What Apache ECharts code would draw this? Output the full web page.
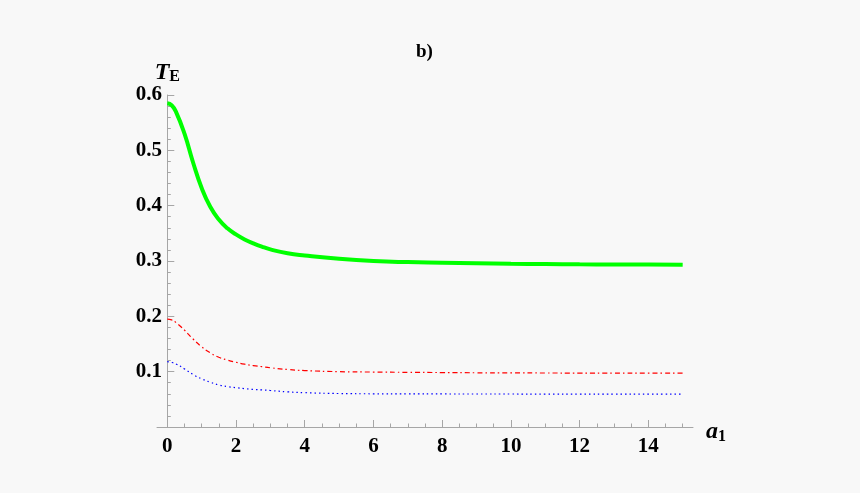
<!DOCTYPE html>
<html>
<head>
<meta charset="utf-8">
<title>b)</title>
<script src="https://cdn.jsdelivr.net/npm/echarts@6/dist/echarts.min.js"></script>
<style>
  html, body { margin: 0; padding: 0; background: #f8f8f8; }
  #chart { width: 860px; height: 493px; }
</style>
</head>
<body>
<div id="chart"></div>
<script>
// a1 values (shared by all curves)
var a1 = [0, 0.125, 0.25, 0.5, 0.75, 1, 1.25, 1.5, 1.75, 2, 2.25, 2.5, 2.75, 3, 3.5, 4, 5, 6, 7, 8, 9, 10, 11, 12, 13, 14, 15];
// T_E curves
var greenT = [0.585, 0.5815, 0.570, 0.530, 0.478, 0.432, 0.398, 0.375, 0.359, 0.348, 0.339, 0.332, 0.326, 0.321, 0.314, 0.310, 0.304, 0.300, 0.298, 0.297, 0.296, 0.295, 0.2945, 0.294, 0.2938, 0.2935, 0.2932];
var redT = [0.195, 0.1935, 0.189, 0.175, 0.159, 0.145, 0.134, 0.126, 0.121, 0.117, 0.1135, 0.111, 0.109, 0.107, 0.104, 0.102, 0.100, 0.0993, 0.0988, 0.0984, 0.098, 0.0978, 0.0976, 0.0975, 0.0974, 0.0973, 0.0972];
var blueT = [0.118, 0.1168, 0.114, 0.105, 0.095, 0.087, 0.081, 0.076, 0.073, 0.071, 0.0693, 0.068, 0.067, 0.066, 0.0635, 0.062, 0.0605, 0.0600, 0.0598, 0.0597, 0.0596, 0.0596, 0.0595, 0.0595, 0.0595, 0.0594, 0.0594];
// tick positions
var xMajor = [0, 2, 4, 6, 8, 10, 12, 14];
var xMinor = [0, 0.5, 1, 1.5, 2, 2.5, 3, 3.5, 4, 4.5, 5, 5.5, 6, 6.5, 7, 7.5, 8, 8.5, 9, 9.5, 10, 10.5, 11, 11.5, 12, 12.5, 13, 13.5, 14, 14.5, 15];

function pairs(ys) {
    return a1.map(function (x, i) { return [x, ys[i]]; });
}

var serif = 'Liberation Serif';
var axisColor = '#a6a6a6';

var chart = echarts.init(document.getElementById('chart'));

var option = {
    backgroundColor: '#f8f8f8',
    animation: false,
    title: {
        text: 'b)',
        left: 411,
        top: 38,
        textStyle: { fontFamily: serif, fontWeight: 'bold', fontSize: 19, color: '#000' }
    },
    grid: { left: 157, right: 167, top: 95, bottom: 66 },
    xAxis: [{
        type: 'value',
        min: -0.3,
        max: 15.3,
        position: 'bottom',
        axisLine: { onZero: false, lineStyle: { color: axisColor, width: 1 } },
        axisTick: { show: true, inside: true, length: 7, customValues: xMajor, lineStyle: { color: axisColor } },
        axisLabel: {
            customValues: xMajor,
            margin: 9,
            color: '#000',
            fontFamily: serif,
            fontWeight: 'bold',
            fontSize: 21
        },
        splitLine: { show: false },
        name: '{a|a}{s|1}',
        nameLocation: 'end',
        nameGap: 13,
        nameTextStyle: {
            verticalAlign: 'middle',
            padding: [10, 0, 0, 0],
            rich: {
                a: { fontFamily: serif, fontStyle: 'italic', fontWeight: 'bold', fontSize: 24, color: '#000' },
                s: { fontFamily: serif, fontWeight: 'bold', fontSize: 16, color: '#000', padding: [10, 0, 0, 0] }
            }
        }
    }, {
        type: 'value',
        min: -0.3,
        max: 15.3,
        position: 'bottom',
        axisLine: { show: false, onZero: false },
        axisTick: { show: true, inside: true, length: 3.5, customValues: xMinor, lineStyle: { color: axisColor } },
        axisLabel: { show: false },
        splitLine: { show: false }
    }],
    yAxis: {
        type: 'value',
        min: 0,
        max: 0.6,
        interval: 0.1,
        axisLine: { show: true, onZero: true, onZeroAxisIndex: 0, lineStyle: { color: axisColor, width: 1 } },
        axisTick: { show: true, inside: true, length: 7, lineStyle: { color: axisColor } },
        minorTick: { show: true, splitNumber: 5, length: 3.5, lineStyle: { color: axisColor } },
        axisLabel: {
            showMinLabel: false,
            margin: -5,
            color: '#000',
            fontFamily: serif,
            fontWeight: 'bold',
            fontSize: 21,
            formatter: function (v) { return v.toFixed(1); }
        },
        splitLine: { show: false },
        name: '{t|T}{e|E}',
        nameLocation: 'end',
        nameGap: 6,
        nameTextStyle: {
            align: 'center',
            rich: {
                t: { fontFamily: serif, fontStyle: 'italic', fontWeight: 'bold', fontSize: 24, color: '#000' },
                e: { fontFamily: serif, fontWeight: 'bold', fontSize: 16, color: '#000', padding: [8, 0, 0, 0] }
            }
        }
    },
    series: [{
        name: 'green',
        type: 'line',
        data: pairs(greenT),
        smooth: 0.5,
        showSymbol: false,
        lineStyle: { color: '#00ff00', width: 4 }
    }, {
        name: 'red',
        type: 'line',
        data: pairs(redT),
        smooth: 0.5,
        showSymbol: false,
        lineStyle: { color: '#ff0000', width: 1.2, type: [5, 3, 1.5, 3] }
    }, {
        name: 'blue',
        type: 'line',
        data: pairs(blueT),
        smooth: 0.5,
        showSymbol: false,
        lineStyle: { color: '#0000ff', width: 1.2, type: [1.5, 3] }
    }]
};

chart.setOption(option);
</script>
</body>
</html>
